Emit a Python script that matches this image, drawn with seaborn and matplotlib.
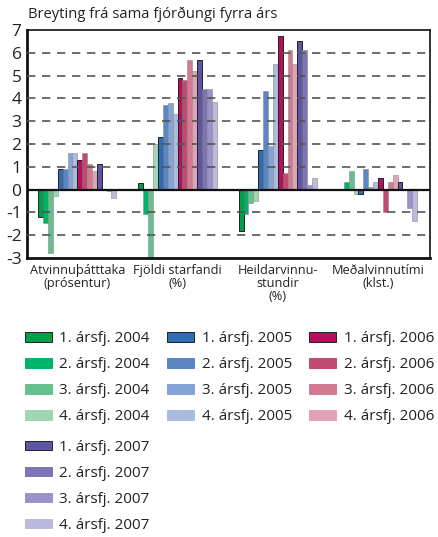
import matplotlib
matplotlib.use("Agg")
import matplotlib.pyplot as plt
import seaborn as sns
import pandas as pd
from matplotlib.patches import Patch

# ---------------- data ----------------
categories = ["Atvinnuþátttaka\n(prósentur)", "Fjöldi starfandi\n(%)",
              "Heildarvinnu-\nstundir\n(%)", "Meðalvinnutími\n(klst.)"]
years = ["2004", "2005", "2006", "2007"]
quarters = ["1. ársfj.", "2. ársfj.", "3. ársfj.", "4. ársfj."]

# each row: one quarter, values for the 4 categories
v2004 = [[-1.2, 0.3, -1.8, 0.0],
         [-1.47, -1.08, -1.05, 0.32],
         [-2.8, -3.0, -0.58, 0.8],
         [-0.28, 2.0, -0.5, -0.19]]
v2005 = [[0.92, 2.3, 1.72, -0.19],
         [0.92, 3.7, 4.32, 0.9],
         [1.62, 3.8, 1.9, 0.12],
         [1.62, 3.3, 5.53, 0.32]]
v2006 = [[1.32, 4.9, 6.72, 0.51],
         [1.62, 4.82, 0.71, -1.0],
         [1.12, 5.7, 6.11, 0.32],
         [0.83, 5.22, 5.53, 0.63]]
v2007 = [[1.13, 5.7, 6.52, 0.32],
         [0.0, 4.4, 6.11, 0.0],
         [-0.07, 4.4, 0.22, -0.8],
         [-0.39, 3.83, 0.51, -1.38]]

colors2004 = ["#00a04a", "#00b36b", "#66c08e", "#9fd6b3"]
colors2005 = ["#2e6db4", "#5a86c4", "#84a3d6", "#aabbe0"]
colors2006 = ["#b5105c", "#c24a72", "#d37a93", "#e0a3b5"]
colors2007 = ["#5e56a3", "#7c74b8", "#9a93c8", "#bdb8dd"]

title = "Breyting frá sama fjórðungi fyrra árs"
yticks = [-3, -2, -1, 0, 1, 2, 3, 4, 5, 6, 7]

# ---------------- build table ----------------
values_by_year = [v2004, v2005, v2006, v2007]
colors_by_year = [colors2004, colors2005, colors2006, colors2007]
rows = []
series_order = []
palette = []
for y, vals, cols in zip(years, values_by_year, colors_by_year):
    for q, qvals, c in zip(quarters, vals, cols):
        name = f"{q} {y}"
        series_order.append(name)
        palette.append(c)
        for cat, v in zip(categories, qvals):
            rows.append({"category": cat, "series": name, "value": v})
df = pd.DataFrame(rows)

# ---------------- plot ----------------
sns.set_style("white")
plt.rcParams["font.family"] = ["Open Sans", "DejaVu Sans"]

fig = plt.figure(figsize=(4.38, 5.37), dpi=100)
ax = fig.add_axes([0.062, 0.5196, 0.920, 0.4244])

sns.barplot(data=df, x="category", y="value", hue="series", order=categories,
            hue_order=series_order, palette=palette, width=0.78, errorbar=None,
            legend=False, ax=ax, linewidth=0.5, saturation=1)

for i, cont in enumerate(ax.containers):
    for p in cont.patches:
        if i % 4 == 0:
            p.set_edgecolor("#222222")
            p.set_linewidth(0.7)
        else:
            p.set_edgecolor("#8a8a8a")
            p.set_linewidth(0.4)

ax.set_ylim(-3, 7)
ax.set_xlim(-0.5, 3.52)
ax.set_yticks(yticks)
ax.set_yticklabels([str(t) for t in yticks], fontsize=12.5, color="#222222")
ax.tick_params(axis="y", length=0, pad=4)

# grid (dashed, on top of bars)
for t in yticks:
    if t in (-3, 0, 7):
        continue
    ax.axhline(t, color="#555555", lw=1.2, ls=(0, (5, 4)), zorder=5)
ax.axhline(0, color="#111111", lw=1.6, zorder=6)

ax.set_xticks(range(len(categories)))
ax.set_xticklabels(categories, fontsize=9.2, color="#222222", linespacing=1.0)
ax.tick_params(axis="x", which="major", length=0, pad=4)
ax.set_xticks([0.5, 1.5, 2.5], minor=True)
ax.tick_params(axis="x", which="minor", length=6, width=1.8, color="#111111", direction="out")
ax.set_xlabel("")
ax.set_ylabel("")

for side in ["left", "bottom"]:
    ax.spines[side].set_linewidth(2.0)
    ax.spines[side].set_color("#111111")
for side in ["top", "right"]:
    ax.spines[side].set_linewidth(1.2)
    ax.spines[side].set_color("#111111")
    ax.spines[side].set_visible(True)

fig.text(0.064, 0.973, title, fontsize=10.6, color="#222222", va="center", ha="left")

# legends
def make_handles(names, cols):
    hs = []
    for j, (n, c) in enumerate(zip(names, cols)):
        ec = "#222222" if j % 4 == 0 else c
        hs.append(Patch(facecolor=c, edgecolor=ec, linewidth=0.7, label=n))
    return hs

common = dict(frameon=False, fontsize=11, handlelength=1.75, handleheight=0.6,
              handletextpad=0.5, labelspacing=0.72, borderaxespad=0, borderpad=0)
h12 = make_handles(series_order[:12], palette[:12])
leg1 = fig.legend(handles=h12, ncol=3, loc="upper left", bbox_to_anchor=(0.057, 0.383),
                  columnspacing=1.15, **common)
h4 = make_handles(series_order[12:], palette[12:])
leg2 = fig.legend(handles=h4, ncol=1, loc="upper left", bbox_to_anchor=(0.057, 0.181),
                  **common)
for leg in (leg1, leg2):
    for t in leg.get_texts():
        t.set_color("#222222")

fig.savefig("out.png", dpi=100)
